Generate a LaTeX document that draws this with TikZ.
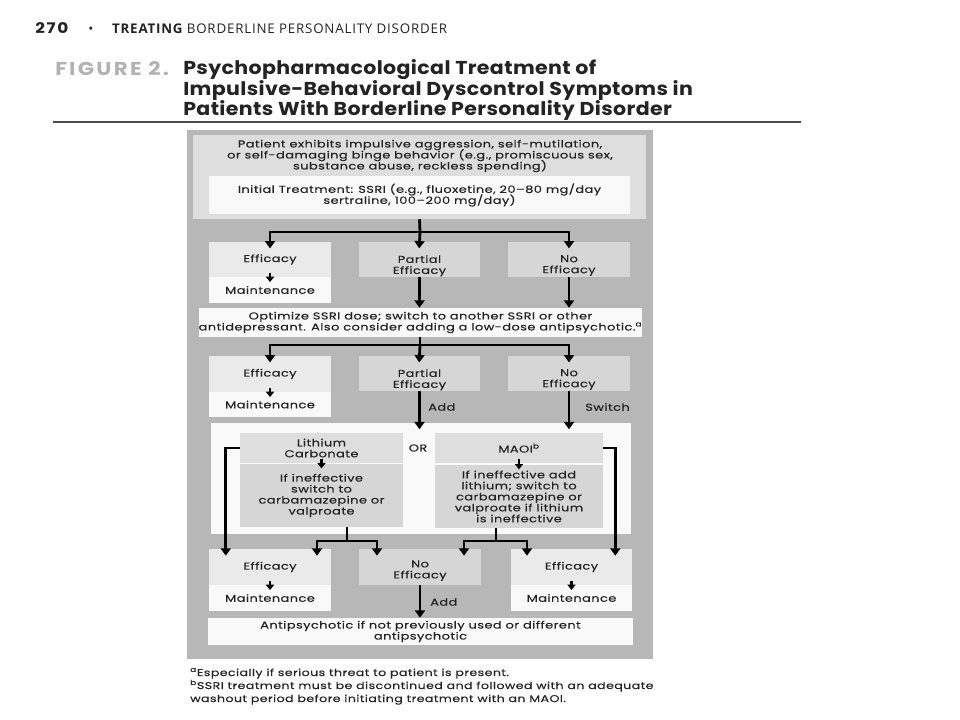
\documentclass[tikz,border=0pt]{standalone}
\usepackage{fontspec}
\setmainfont{Poppins}[FakeStretch=1.3,LetterSpace=4,FakeBold=0.3]
\newfontfamily\headfont{Open Sans}[LetterSpace=6]
\newfontfamily\titlefont{Poppins}[FakeStretch=1.1,LetterSpace=2]
\newfontfamily\figfont{Poppins}[FakeStretch=1.15,LetterSpace=12]
\usetikzlibrary{arrows.meta}
\definecolor{panel}{RGB}{183,183,183}
\definecolor{boxgray}{RGB}{214,214,214}
\definecolor{headgray}{RGB}{222,222,222}
\definecolor{lightgray}{RGB}{234,234,234}
\definecolor{paper}{RGB}{249,249,249}
\definecolor{ink}{RGB}{35,35,35}
\newcommand\boxfont{\fontsize{7.5}{8.25}\selectfont\lineskiplimit=-10pt\relax}
\newcommand\notefont{\fontsize{7.3}{9.75}\selectfont\lineskiplimit=-10pt\relax}
\newcommand\pushdown[1]{\mbox{}\\[#1]}

\begin{document}
\begin{tikzpicture}[x=0.75pt,y=-0.75pt,
  box/.style 2 args={inner sep=0pt,minimum width=#1*0.75pt,minimum height=#2*0.75pt,
    align=center,text=ink,font=\boxfont},
  lbl/.style={inner sep=0pt,text=ink,font=\boxfont},
  arr/.style={line width=2.1pt,-{Triangle[width=7.5pt,length=5.5pt]}},
  arrin/.style={arr,shorten >=-5pt},
  tinyarr/.style={line width=1.6pt,-{Triangle[width=6pt,length=4pt]}},
  bar/.style={line width=2.1pt}]
\useasboundingbox (0,0) rectangle (960,720);

% page head and title
\node[anchor=base west,inner sep=0pt,text=ink] (head) at (35,34)
  {{\figfont\bfseries\fontsize{11}{12}\selectfont 270}\hspace{15pt}{\headfont\fontsize{10}{11}\selectfont\textbullet\hspace{14pt}{\bfseries TREATING} BORDERLINE PERSONALITY DISORDER}};
\node[anchor=base west,inner sep=0pt,text=gray!60,font=\figfont\bfseries\fontsize{14}{15}\selectfont] (fig) at (55,76) {FIGURE 2.};
\node[anchor=base west,inner sep=0pt,align=left,text=ink,font=\titlefont\bfseries\fontsize{14}{15}\selectfont] (title) at (183,116)
  {Psychopharmacological Treatment of\\Impulsive-Behavioral Dyscontrol Symptoms in\\Patients With Borderline Personality Disorder};
\draw[line width=1.2pt,gray!60!black] (53,122) -- (801,122);

% panel
\fill[panel] (187,130) rectangle (653,659);

\node[box={453}{84},fill=headgray] (top) at (419.5,177) {};
\node[lbl,align=center] (symp) at (420,156)
  {Patient exhibits impulsive aggression, self-mutilation,\\or self-damaging binge behavior (e.g., promiscuous sex,\\substance abuse, reckless spending)};
\node[box={421}{38},fill=paper] (init) at (419.5,195)
  {Initial Treatment: SSRI (e.g., fluoxetine, 20--80 mg/day\\sertraline, 100--200 mg/day)};

% first outcome row
\node[box={122}{35},fill=lightgray] (eff1t) at (270,259.5) {Efficacy};
\node[box={122}{26},fill=paper] (eff1b) at (270,290) {Maintenance};
\node[box={121}{35},fill=boxgray] (part1) at (419.5,259.5) {\pushdown{7pt}Partial\\Efficacy};
\node[box={122}{35},fill=boxgray] (no1) at (569,259.5) {\pushdown{6pt}No\\Efficacy};

\coordinate (j1) at (420,232);
\draw[bar] (top.south) -- (j1);
\draw[arrin] (j1) -| (eff1t.north);
\draw[arrin] (j1) -- (part1.north);
\draw[arrin] (j1) -| (no1.north);
\draw[tinyarr] ([yshift=3.5pt]eff1t.south) -- ([yshift=-4pt]eff1b.north);

\node[box={441}{29},fill=paper] (opt) at (420.5,322.5)
  {Optimize SSRI dose; switch to another SSRI or other\\antidepressant. Also consider adding a low-dose antipsychotic.\textsuperscript{a}};
\draw[arr] (part1.south) -- (opt.north -| part1.south);
\draw[arr] (no1.south) -- (opt.north -| no1.south);

% second outcome row
\node[box={122}{36},fill=lightgray] (eff2t) at (270,374) {Efficacy};
\node[box={122}{25},fill=paper] (eff2b) at (270,404.5) {Maintenance};
\node[box={121}{35},fill=boxgray] (part2) at (419.5,373.5) {\pushdown{7pt}Partial\\Efficacy};
\node[box={122}{35},fill=boxgray] (no2) at (569,373.5) {\pushdown{6pt}No\\Efficacy};

\coordinate (j2) at (420,345);
\draw[bar] (opt.south -| j2) -- (j2);
\draw[arrin] (j2) -| (eff2t.north);
\draw[arrin] (j2) -- (part2.north);
\draw[arrin] (j2) -| (no2.north);
\draw[tinyarr] ([yshift=3.5pt]eff2t.south) -- ([yshift=-4pt]eff2b.north);

% augment or switch
\node[box={420}{111},fill=paper] (combo) at (421,478.5) {};
\node[lbl,anchor=west] (add1) at (428,407) {Add};
\node[lbl,anchor=west] (switch) at (585,407) {Switch};
\draw[arr] (part2.south) -- ++(0,38);
\draw[arr] (no2.south) -- ++(0,38);

\node[box={163}{30},fill=headgray] (lithh) at (321.5,448) {Lithium\\Carbonate};
\node[box={163}{63},fill=boxgray] (lithb) at (321.5,495.5) {If ineffective\\switch to\\carbamazepine or\\valproate};
\node[box={168}{30},fill=headgray] (maoih) at (519,448) {MAOI\textsuperscript{b}};
\node[box={168}{63},fill=boxgray] (maoib) at (519,496.5)
  {If ineffective add\\lithium; switch to\\carbamazepine or\\valproate if lithium\\is ineffective};
\node[lbl] (or) at (418,448) {OR};
\draw[tinyarr] ([yshift=3.5pt]lithh.south) -- ([yshift=-3.5pt]lithb.north);
\draw[tinyarr] ([yshift=3.5pt]maoih.south) -- ([yshift=-3.5pt]maoib.north);

% third outcome row
\node[box={122}{36},fill=lightgray] (eff3t) at (270,567) {Efficacy};
\node[box={122}{26},fill=paper] (eff3b) at (270,598) {Maintenance};
\node[box={122}{36},fill=boxgray] (no3) at (420,567) {\pushdown{2.5pt}No\\Efficacy};
\node[box={121}{36},fill=lightgray] (eff4t) at (571.5,567) {Efficacy};
\node[box={121}{26},fill=paper] (eff4b) at (571.5,598) {Maintenance};
\draw[tinyarr] ([yshift=3.5pt]eff3t.south) -- ([yshift=-4pt]eff3b.north);
\draw[tinyarr] ([yshift=3.5pt]eff4t.south) -- ([yshift=-4pt]eff4b.north);

\draw[arrin] (lithh.west) -| ++(-14,101);
\draw[arrin] (maoih.east) -| ++(12,101);

\coordinate (lj) at (347,541);
\draw[bar] (lithb.south -| lj) -- (lj);
\draw[arrin] (lj) -| ++(-30,8);
\draw[arrin] (lj) -| ++(30,8);
\coordinate (mj) at (496,541);
\draw[bar] (maoib.south -| mj) -- (mj);
\draw[arrin] (mj) -| ++(-32,8);
\draw[arrin] (mj) -| ++(31,8);

\node[box={425}{27},fill=paper] (anti) at (420.5,631.5)
  {Antipsychotic if not previously used or different\\antipsychotic};
\node[lbl,anchor=west] (add2) at (430,602) {Add};
\draw[arr] (no3.south) -- (anti.north -| no3.south);

% notes
\node[anchor=base west,inner sep=0pt,align=left,text=ink,font=\notefont] (notes) at (190,702)
  {\textsuperscript{a}Especially if serious threat to patient is present.\\
   \textsuperscript{b}SSRI treatment must be discontinued and followed with an adequate\\
   washout period before initiating treatment with an MAOI.};
\end{tikzpicture}
\end{document}
